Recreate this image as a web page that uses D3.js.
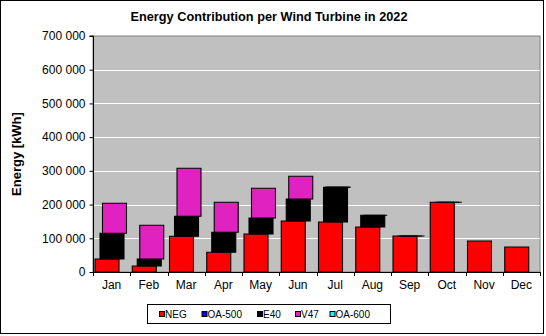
<!DOCTYPE html>
<html><head><meta charset="utf-8">
<script src="https://cdn.jsdelivr.net/npm/d3@7"></script>
<style>body{margin:0;background:#fff}svg{display:block}text{font-family:"Liberation Sans",Arial,sans-serif}</style>
</head><body><svg id="c" width="546" height="336"></svg>
<script>
const months = ["Jan","Feb","Mar","Apr","May","Jun","Jul","Aug","Sep","Oct","Nov","Dec"];
const seriesNames = ["NEG","OA-500","E40","V47","OA-600"];
const seriesColors = ["#FF0000","#0000FF","#000000","#DF22C0","#00FFFF"];
const NEG   = [38600,17800,105900,58400,112700,151300,148300,133500,106800,206800,92000,74200];
const OA500 = [null,null,null,null,null,null,null,null,null,null,null,null];
const E40   = [76200,20800,59300,59400,47500,65300,102800,34700,0,0,null,null];
const V47   = [89000,99900,142400,89000,88100,67300,1000,0,0,0,null,null];
const OA600 = [null,null,null,null,null,null,null,null,null,null,null,null];
const yTicks = [0,100000,200000,300000,400000,500000,600000,700000];

const data = [NEG,OA500,E40,V47,OA600];
const offsets = [2,4.5,7,9.5,12];
const barW = 24;

const svg = d3.select("#c");
const L=93,R=540,T=36,B=272;
const x = d3.scaleBand().domain(months).range([L,R]).padding(0);
const y = d3.scaleLinear().domain([0,700000]).range([B,T]);

// outer border
svg.append("rect").attr("x",0.5).attr("y",0.5).attr("width",543).attr("height",333)
  .attr("fill","#fff").attr("stroke","#000");

// plot area
svg.append("rect").attr("x",L).attr("y",T).attr("width",R-L).attr("height",B-T)
  .attr("fill","#C0C0C0").attr("stroke","#808080");

// gridlines
svg.append("g").selectAll("line").data(yTicks.filter(d=>d>0&&d<700000)).join("line")
  .attr("x1",L).attr("x2",R).attr("y1",d=>Math.round(y(d))+0.5).attr("y2",d=>Math.round(y(d))+0.5)
  .attr("stroke","#fff").attr("stroke-width",1);

// bars (stacked, offset per series)
const cum = months.map(()=>0);
data.forEach((vals,si)=>{
  const g = svg.append("g");
  vals.forEach((v,i)=>{
    if(v===null) return;
    const y0 = y(cum[i]), y1 = y(cum[i]+v);
    cum[i]+=v;
    const x0 = x(months[i])+offsets[si];
    g.append("path")
      .attr("d",`M${x0},${y0}V${y1}H${x0+barW}V${y0}Z`)
      .attr("fill",seriesColors[si]).attr("stroke","#000").attr("stroke-width",1.1);
  });
});

// axes
const yAxis = d3.axisLeft(y).tickValues(yTicks).tickSize(4).tickPadding(4)
  .tickFormat(d=>d3.format(",")(d).replace(/,/g," "));
const ya = svg.append("g").attr("transform",`translate(${L+0.5},0)`).call(yAxis);
ya.select(".domain").attr("d",`M-4,${T}H0V${B}`).attr("stroke","#000");
ya.selectAll("text").attr("font-size",12).attr("fill","#000").style("font-family","Liberation Sans,Arial");
ya.selectAll("line").attr("stroke","#000");

const xg = svg.append("g");
xg.append("line").attr("x1",L).attr("x2",R).attr("y1",B+0.5).attr("y2",B+0.5).attr("stroke","#000");
xg.selectAll("line.t").data(d3.range(13)).join("line").attr("class","t")
  .attr("x1",i=>Math.round(L+i*x.bandwidth())+0.5).attr("x2",i=>Math.round(L+i*x.bandwidth())+0.5)
  .attr("y1",B).attr("y2",B+4).attr("stroke","#000");
xg.selectAll("text").data(months).join("text")
  .attr("x",d=>x(d)+x.bandwidth()/2).attr("y",B+17).attr("text-anchor","middle")
  .attr("font-size",12).text(d=>d);

// title
svg.append("text").attr("x",269).attr("y",21).attr("text-anchor","middle")
  .attr("font-size",13).attr("font-weight","bold").attr("textLength",277).attr("lengthAdjust","spacingAndGlyphs")
  .text("Energy Contribution  per Wind Turbine in 2022");

// y title
svg.append("text").attr("transform","translate(21,154) rotate(-90)").attr("text-anchor","middle")
  .attr("font-size",13).attr("font-weight","bold").text("Energy [kWh]");

// legend
svg.append("rect").attr("x",147.5).attr("y",304.5).attr("width",243).attr("height",19)
  .attr("fill","#fff").attr("stroke","#000");
const legX = [159,201.5,257,295,329.5];
const lg = svg.append("g");
seriesNames.forEach((n,i)=>{
  lg.append("rect").attr("x",legX[i]+0.5).attr("y",311.5).attr("width",5).attr("height",5)
    .attr("fill",seriesColors[i]).attr("stroke","#000");
  lg.append("text").attr("x",legX[i]+6).attr("y",318).attr("font-size",10).text(n);
});
</script></body></html>
